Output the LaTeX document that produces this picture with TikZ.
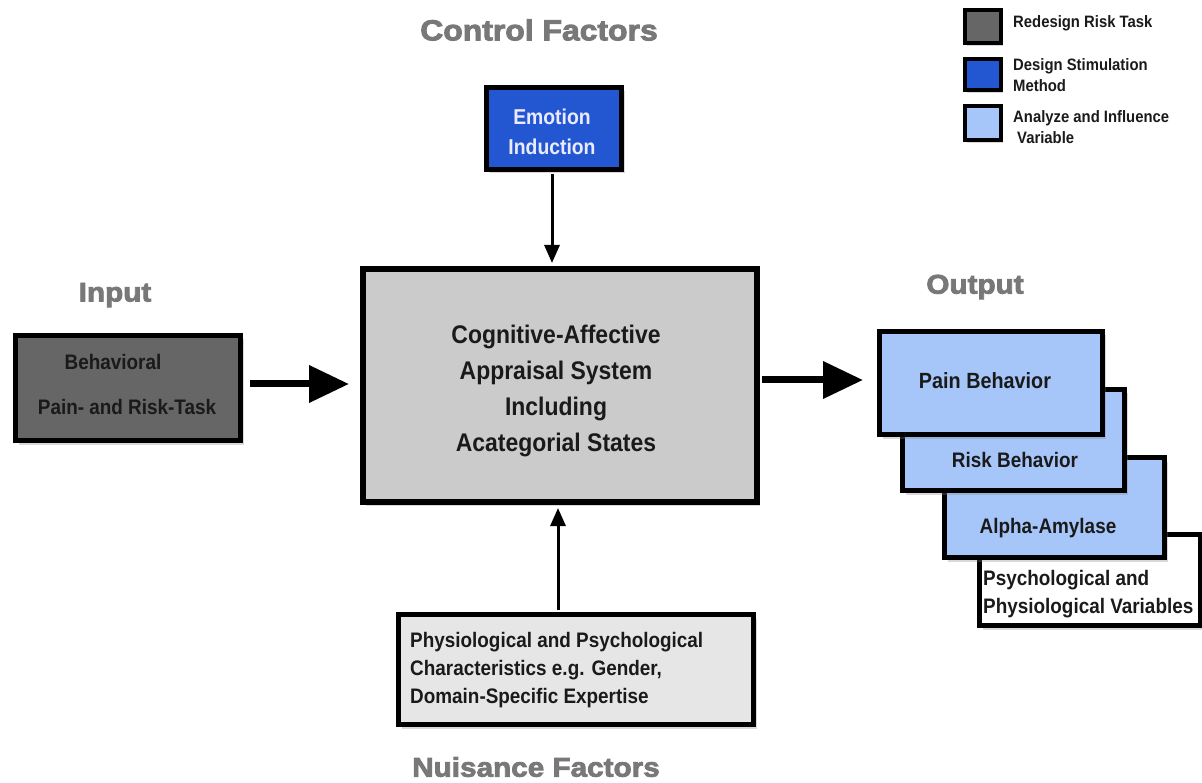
\documentclass[tikz,border=0pt]{standalone}
\usepackage{fontspec}
\setmainfont{Liberation Sans}[FakeStretch=0.9]
\newfontfamily\headfont{Liberation Sans}[FakeStretch=1.1, BoldFeatures={FakeBold=3}]
\usetikzlibrary{arrows.meta,shadows,calc}

\definecolor{taskgray}{HTML}{666666}
\definecolor{stimblue}{HTML}{2357D2}
\definecolor{varblue}{HTML}{A6C6FA}
\definecolor{coregray}{HTML}{CBCBCB}
\definecolor{nuisgray}{HTML}{E6E6E6}
\definecolor{headgray}{HTML}{787878}
\definecolor{inkgray}{HTML}{1A1A1A}

\tikzset{
  box/.style={draw=black, line width=5pt, inner sep=0pt,
    drop shadow={shadow xshift=3pt, shadow yshift=-4pt, opacity=0.3}},
  legendbox/.style={draw=black, line width=4pt, inner sep=0pt,
    minimum width=36pt,
    drop shadow={shadow xshift=2pt, shadow yshift=-3pt, opacity=0.3}},
  lbl/.style={inner sep=0pt, text=inkgray,
    font=\fontsize{21}{28}\selectfont\bfseries},
  legendtxt/.style={inner sep=0pt, anchor=west, align=left, text=inkgray,
    font=\fontsize{16.5}{21}\selectfont\bfseries},
  heading/.style={inner sep=0pt, text=headgray,
    font=\headfont\fontsize{27}{30}\selectfont\bfseries},
  thinarrow/.style={line width=3pt, -{Triangle[length=18pt,width=15pt]}},
  bigarrow/.style={line width=7pt, -{Triangle[length=40pt,width=36pt]}},
}

\begin{document}
\begin{tikzpicture}[x=1pt,y=-1pt]
\useasboundingbox (0,0) rectangle (1202,783);

% headings
\node[heading, font=\headfont\fontsize{29}{30}\selectfont\bfseries] (hcontrol) at (539,30) {Control Factors};
\node[heading] (hinput) at (115,295) {Input};
\node[heading] (houtput) at (975,287) {Output};
\node[heading] (hnuis) at (536,767) {Nuisance Factors};

% legend
\node[legendbox, fill=taskgray, minimum height=33pt] (leg1) at (983,26.5) {};
\node[legendbox, fill=stimblue, minimum height=31pt] (leg2) at (983,74.5) {};
\node[legendbox, fill=varblue, minimum height=34pt] (leg3) at (983,123) {};
\node[legendtxt] (legt1) at (1013,23) {Redesign Risk Task};
\node[legendtxt] (legt2) at (1013,75.5) {Design Stimulation\\Method};
\node[legendtxt] (legt3) at (1013,127.5) {Analyze and Influence\\\hspace*{4pt}Variable};

% control factor
\node[box, fill=stimblue, minimum width=135pt, minimum height=82pt] (emotion) at (554,128.5) {};
\node[lbl, text=white!92!blue, align=center, font=\fontsize{21.5}{30}\selectfont\bfseries] (emotiontxt) at (552,132) {Emotion\\Induction};

% central system
\node[box, line width=6pt, fill=coregray, minimum width=394pt, minimum height=233pt] (core) at (560,385.5) {};
\node[lbl, align=center, font=\fontsize{25.5}{36}\selectfont\bfseries] (coretxt) at (556,391) {Cognitive-Affective\\Appraisal System\\Including\\Acategorial States};

% input
\node[box, fill=taskgray, minimum width=225pt, minimum height=105pt] (behav) at (128,388) {};
\node[lbl] (behavtxt1) at (113,362) {Behavioral};
\node[lbl] (behavtxt2) at (127,407) {Pain- and Risk-Task};

% outputs, back to front
\node[box, fill=white, minimum width=221pt, minimum height=91pt] (psych) at (1090,580) {};
\node[lbl, anchor=west, align=left] (psychtxt) at (983,594) {Psychological and\\Physiological Variables};
\node[box, fill=varblue, minimum width=220pt, minimum height=100pt] (alpha) at (1054.5,507.5) {};
\node[lbl] (alphatxt) at (1048,528) {Alpha-Amylase};
\node[box, fill=varblue, minimum width=222pt, minimum height=101pt] (risk) at (1013.5,440) {};
\node[lbl] (risktxt) at (1015,460) {Risk Behavior};
\node[box, fill=varblue, minimum width=223pt, minimum height=103pt] (pain) at (991,383) {};
\node[lbl, font=\fontsize{22}{28}\selectfont\bfseries] (paintxt) at (985,381) {Pain Behavior};

% nuisance factors
\node[box, fill=nuisgray, minimum width=355pt, minimum height=110pt] (nuis) at (576,669.5) {};
\node[lbl, anchor=west, align=left] (nuistxt) at (410,670) {Physiological and Psychological\\Characteristics e.g. Gender,\\Domain-Specific Expertise};

% connectors
\draw[thinarrow, shorten >=3pt] ($(emotion.south)+(-2,2)$) -- ($(emotion.south |- core.north)+(-2,0)$);
\draw[thinarrow, shorten >=3pt] ($(nuis.north)+(-18,-2)$) -- ($(nuis.north |- core.south)+(-18,0)$);
\draw[bigarrow, shorten >=11pt] ($(behav.east)+(7,-4)$) -- ($(behav.east -| core.west)+(0,-4)$);
\draw[bigarrow, shorten >=14pt] ($(core.east)+(2,-5.5)$) -- ($(core.east -| pain.west)+(0,-5.5)$);
\end{tikzpicture}
\end{document}
